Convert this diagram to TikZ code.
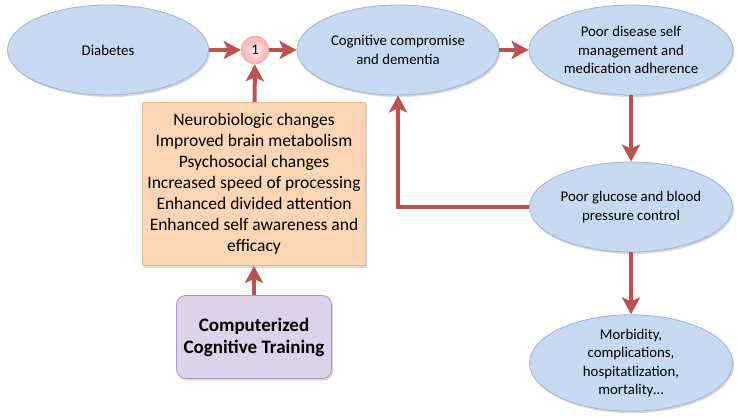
\documentclass[tikz,border=0pt]{standalone}
\usepackage{fontspec}
\setmainfont{Carlito}
\usetikzlibrary{shapes.geometric,arrows.meta,shadows}
\definecolor{ovalblue}{HTML}{C6D9F1}
\definecolor{ovalline}{HTML}{9FB3CC}
\definecolor{arrowred}{HTML}{C0504D}
\definecolor{peach}{HTML}{FCD5B5}
\definecolor{peachline}{HTML}{E3B98F}
\definecolor{lilac}{HTML}{DCD2EA}
\definecolor{lilacline}{HTML}{A898C0}
\tikzset{
  oval/.style={ellipse, draw=ovalline, line width=0.8pt, fill=ovalblue, align=center,
    inner sep=0pt, font=\fontsize{14.8}{18.5}\selectfont,
    drop shadow={shadow xshift=1.5pt, shadow yshift=-2pt, opacity=0.3}},
  link/.style={draw=arrowred, line width=4pt, -{Stealth[length=17pt,width=18pt,inset=4pt]}},
}
\begin{document}
\begin{tikzpicture}[x=1pt,y=-1pt]
    \useasboundingbox (0,0) rectangle (738,417);

    \node[oval, minimum width=201pt, minimum height=90pt] (diabetes) at (108,50) {Diabetes};
    \node[circle, minimum size=28pt, inner sep=0pt, draw=arrowred!50, shading=radial, inner color=red!6,
      outer color=red!32, font=\fontsize{14.8}{16}\selectfont] (one) at (255,50) {1};
    \node[oval, minimum width=202pt, minimum height=90pt] (cognitive) at (398,50) {Cognitive compromise\\and dementia};
    \node[oval, minimum width=204pt, minimum height=90pt] (selfcare) at (631,50) {Poor disease self\\management and\\medication adherence};
    \node[oval, minimum width=203pt, minimum height=90pt] (glucose) at (631,207) {Poor glucose and blood\\pressure control};
    \node[oval, minimum width=203pt, minimum height=89pt] (morbidity) at (631,363) {Morbidity,\\complications,\\hospitatlization,\\mortality\dots};

    \node[rectangle, draw=peachline, line width=0.8pt, fill=peach, minimum width=223pt, minimum height=163pt,
      align=center, inner sep=0pt, font=\fontsize{17.5}{21}\selectfont,
      drop shadow={shadow xshift=1.5pt, shadow yshift=-2pt, opacity=0.3}] (effects) at (254,184)
      {Neurobiologic changes\\Improved brain metabolism\\Psychosocial changes\\Increased speed of processing\\Enhanced divided attention\\Enhanced self awareness and\\efficacy};
    \node[rectangle, rounded corners=9pt, draw=lilacline, line width=0.8pt, fill=lilac, minimum width=155pt,
      minimum height=83pt, align=center, font=\bfseries\fontsize{19}{22}\selectfont,
      drop shadow={shadow xshift=1.5pt, shadow yshift=-2pt, opacity=0.3}] (training) at (254,337)
      {Computerized\\Cognitive Training};

    \draw[link] (diabetes) -- (one);
    \draw[link] (one) -- (cognitive);
    \draw[link] (effects) -- (one);
    \draw[link] (training) -- (effects);
    \draw[link] (cognitive) -- (selfcare);
    \draw[link] (selfcare) -- (glucose);
    \draw[link] (glucose) -- (morbidity);
    \draw[link] (glucose.west) -| (cognitive.south);

\end{tikzpicture}
\end{document}
